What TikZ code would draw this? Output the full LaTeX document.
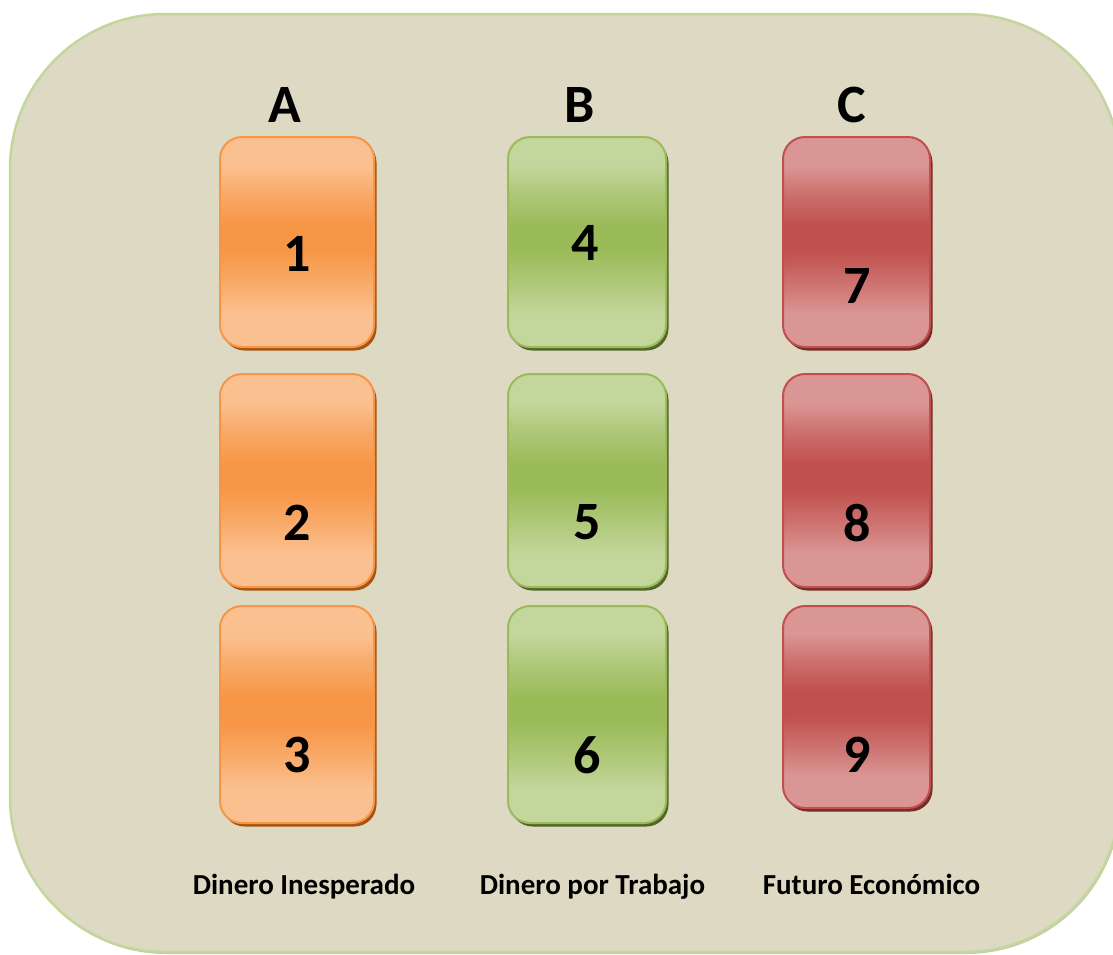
\documentclass[tikz,border=0pt]{standalone}
\usepackage{fontspec}
\setmainfont{Carlito}
\usetikzlibrary{shadows}
\definecolor{bg}{HTML}{DDD9C3}
\definecolor{panelline}{HTML}{C3D69B}
\definecolor{panelshadow}{HTML}{A9B48C}
\definecolor{orL}{HTML}{FAC08F}
\definecolor{orD}{HTML}{F79646}
\definecolor{orS}{HTML}{A65410}
\definecolor{grL}{HTML}{C3D69B}
\definecolor{grD}{HTML}{9BBB59}
\definecolor{grS}{HTML}{536629}
\definecolor{reL}{HTML}{DA9694}
\definecolor{reD}{HTML}{C0504D}
\definecolor{reS}{HTML}{772C2A}
\colorlet{orM}{orL!50!orD}
\colorlet{grM}{grL!50!grD}
\colorlet{reM}{reL!50!reD}
\pgfdeclareverticalshading{orshade}{100bp}{color(0bp)=(orL); color(33bp)=(orL); color(40bp)=(orM); color(48bp)=(orD); color(54bp)=(orD); color(62bp)=(orM); color(68bp)=(orL); color(100bp)=(orL)}
\pgfdeclareverticalshading{grshade}{100bp}{color(0bp)=(grL); color(33bp)=(grL); color(40bp)=(grM); color(48bp)=(grD); color(54bp)=(grD); color(62bp)=(grM); color(68bp)=(grL); color(100bp)=(grL)}
\pgfdeclareverticalshading{reshade}{100bp}{color(0bp)=(reL); color(33bp)=(reL); color(40bp)=(reM); color(48bp)=(reD); color(54bp)=(reD); color(62bp)=(reM); color(68bp)=(reL); color(100bp)=(reL)}
\begin{document}
\begin{tikzpicture}[x=1pt,y=-1pt,
  panel/.style={draw=panelline, line width=2.5pt, fill=bg, rounded corners=155pt,
    minimum width=1110pt, minimum height=938pt, inner sep=0pt, outer sep=0pt,
    drop shadow={shadow xshift=1pt, shadow yshift=-2pt, fill=panelshadow, opacity=.7}},
  card/.style={rounded corners=22pt, line width=2pt, inner sep=0pt, outer sep=0pt, shade},
  orcard/.style={card, draw=orD, shading=orshade,
    drop shadow={shadow xshift=2.5pt, shadow yshift=-3.5pt, fill=orS, opacity=1}},
  grcard/.style={card, draw=grD, shading=grshade,
    drop shadow={shadow xshift=2.5pt, shadow yshift=-3.5pt, fill=grS, opacity=1}},
  recard/.style={card, draw=reD, shading=reshade,
    drop shadow={shadow xshift=2.5pt, shadow yshift=-3.5pt, fill=reS, opacity=1}},
  big/.style={font=\bfseries\fontsize{54}{54}\selectfont, text=black, inner sep=0pt},
  foot/.style={font=\bfseries\fontsize{29}{32}\selectfont, text=black, inner sep=0pt, anchor=base}
]
\useasboundingbox (0,0) rectangle (1113,954);
\clip (0,0) rectangle (1113,954);
\node[panel] (panel) at (565,483) {};
% column A
\node[orcard, minimum width=154pt, minimum height=210pt] (b1) at (297,242) {};
\node[orcard, minimum width=154pt, minimum height=213pt] (b2) at (297,480.5) {};
\node[orcard, minimum width=154pt, minimum height=217pt] (b3) at (297,714.5) {};
% column B
\node[grcard, minimum width=158pt, minimum height=210pt] (b4) at (587,242) {};
\node[grcard, minimum width=158pt, minimum height=213pt] (b5) at (587,480.5) {};
\node[grcard, minimum width=158pt, minimum height=217pt] (b6) at (587,714.5) {};
% column C
\node[recard, minimum width=147pt, minimum height=210pt] (b7) at (856.5,242) {};
\node[recard, minimum width=147pt, minimum height=213pt] (b8) at (856.5,480.5) {};
\node[recard, minimum width=147pt, minimum height=202pt] (b9) at (856.5,707) {};
% numbers
\node[big] (n1) at (297,254) {1};
\node[big] (n2) at (297,523) {2};
\node[big] (n3) at (297,755) {3};
\node[big] (n4) at (585,243) {4};
\node[big] (n5) at (587,522) {5};
\node[big] (n6) at (587,755) {6};
\node[big] (n7) at (857,286) {7};
\node[big] (n8) at (857,523) {8};
\node[big] (n9) at (857,755) {9};
% headers
\node[big] (hA) at (285,105) {A};
\node[big] (hB) at (580,105) {B};
\node[big] (hC) at (852,105) {C};
% footers
\node[foot] (fA) at (304,894) {Dinero Inesperado};
\node[foot] (fB) at (592.5,894) {Dinero por Trabajo};
\node[foot] (fC) at (871.5,894) {Futuro Económico};
\end{tikzpicture}
\end{document}
